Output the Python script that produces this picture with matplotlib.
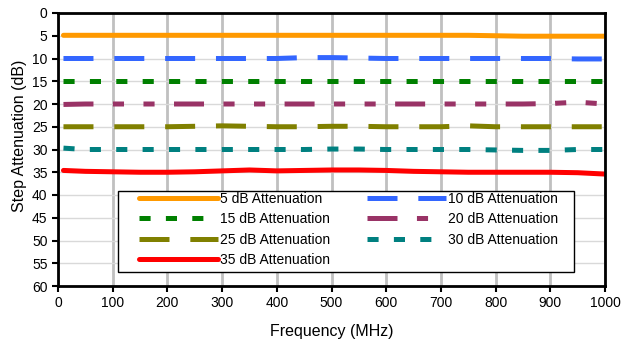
import matplotlib
matplotlib.use("Agg")
import matplotlib.pyplot as plt
from matplotlib.patches import Rectangle

plt.rcParams['font.family'] = ['Liberation Sans', 'DejaVu Sans']
plt.rcParams['lines.scale_dashes'] = False

freq = [10, 50, 100, 150, 200, 250, 300, 350, 400, 450, 500, 550, 600, 650, 700, 750, 800, 850, 900, 950, 1000]
att5 = [4.9, 4.9, 4.9, 4.9, 4.9, 4.9, 4.9, 4.9, 4.9, 4.9, 4.9, 4.9, 4.9, 4.9, 4.9, 4.9, 5.0, 5.1, 5.1, 5.1, 5.1]
att10 = [10.0, 10.0, 10.0, 10.0, 10.0, 10.0, 10.0, 10.0, 10.0, 9.8, 9.8, 9.9, 10.0, 10.0, 10.0, 10.0, 10.0, 10.0, 10.0, 10.1, 10.1]
att15 = [15.0] * 21
att20 = [20.1, 20.0, 20.0, 20.0, 20.0, 20.0, 20.0, 20.0, 20.0, 20.0, 20.0, 20.0, 20.0, 20.0, 20.0, 20.0, 20.0, 20.0, 19.9, 19.6, 20.0]
att25 = [25.0, 25.0, 25.0, 25.0, 25.0, 24.9, 24.8, 24.9, 25.0, 25.0, 24.9, 24.9, 25.0, 25.0, 25.0, 24.8, 25.0, 25.0, 25.0, 25.0, 25.0]
att30 = [29.7, 30.0, 30.0, 30.0, 30.0, 30.0, 30.0, 30.0, 30.0, 30.0, 29.9, 29.9, 30.0, 30.0, 30.0, 30.0, 30.1, 30.2, 30.2, 30.0, 30.0]
att35 = [34.6, 34.8, 34.9, 35.0, 35.0, 34.9, 34.7, 34.5, 34.7, 34.6, 34.5, 34.5, 34.6, 34.8, 34.9, 35.0, 35.0, 35.0, 35.0, 35.1, 35.4]

labels = ['5 dB Attenuation', '10 dB Attenuation', '15 dB Attenuation', '20 dB Attenuation',
          '25 dB Attenuation', '30 dB Attenuation', '35 dB Attenuation']

W, H = 626, 347
fig = plt.figure(figsize=(W / 100, H / 100), dpi=100)
ax = fig.add_axes([58 / W, 1 - 286 / H, (605 - 58) / W, (286 - 13) / H])

lw = 3.6
series = [att5, att10, att15, att20, att25, att30, att35]
colors = ['#FF9900', '#3366FF', '#008000', '#993366', '#808000', '#008080', '#FF0000']
styles = [None, (0, (21.6, 15)), (0, (8, 11)), (0, (21.6, 14, 8, 14, 8, 14)),
          (0, (21.6, 15)), (0, (8, 11)), None]
handles = []
for y, c, s, lab in zip(series, colors, styles, labels):
    if s is None:
        h, = ax.plot(freq, y, color=c, lw=lw, solid_capstyle='round', label=lab)
    else:
        h, = ax.plot(freq, y, color=c, lw=lw, linestyle=s, dash_capstyle='butt', label=lab)
    handles.append(h)

ax.set_xlim(0, 1000)
ax.set_ylim(60, 0)
ax.set_xticks(range(0, 1001, 100))
ax.set_yticks(range(0, 61, 5))
ax.tick_params(labelsize=10, length=4, width=1.5, direction='out')
ax.grid(axis='x', color='#C0C0C0', lw=2)
ax.grid(axis='y', color='#D9D9D9', lw=1)
ax.set_axisbelow(True)
for sp in ax.spines.values():
    sp.set_linewidth(2)
ax.set_xlabel('Frequency (MHz)', fontsize=11.5, labelpad=10)
ax.set_ylabel('Step Attenuation (dB)', fontsize=11.5)
ax.yaxis.set_label_coords(-0.057, 0.55)

# legend frame drawn separately
ax.add_artist(Rectangle((118 / W, 1 - 272 / H), (574 - 118) / W, (272 - 191) / H,
                        transform=fig.transFigure, facecolor='white', edgecolor='black',
                        lw=1, zorder=4))

order = [0, 2, 4, 6, 1, 3, 5]
leg = ax.legend([handles[i] for i in order], [labels[i] for i in order],
                ncol=2, loc='upper left', bbox_to_anchor=(139 / W, 1 - 192 / H),
                bbox_transform=fig.transFigure, fontsize=10, frameon=False,
                handlelength=5.7, handletextpad=0.1, columnspacing=2.7,
                labelspacing=0.45, borderpad=0, borderaxespad=0)
leg.set_zorder(5)

fig.savefig('out.png', dpi=100)
